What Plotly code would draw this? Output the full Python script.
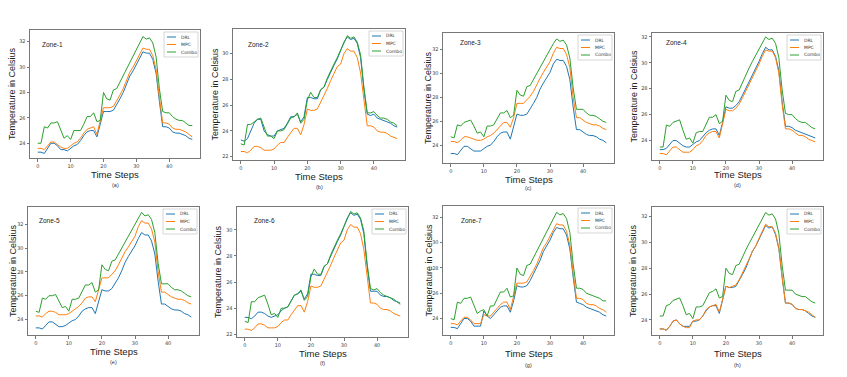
import plotly.graph_objects as go

# ---------------- data ----------------
time_steps = list(range(48))
series_names = ["DRL", "MPC", "Combo"]
zone_titles = ["Zone-1", "Zone-2", "Zone-3", "Zone-4", "Zone-5", "Zone-6", "Zone-7", ""]
captions = ["(a)", "(b)", "(c)", "(d)", "(e)", "(f)", "(g)", "(h)"]
x_tick_vals = [0, 10, 20, 30, 40]

drl1 = [23.3,23.3,23.2,23.6,24.0,24.0,23.8,23.5,23.5,23.4,23.6,23.8,23.9,24.2,24.6,24.9,25.0,25.0,24.5,25.4,26.5,26.5,26.5,26.6,27.0,27.5,28.0,28.6,29.3,29.7,30.2,30.8,31.2,31.1,31.1,30.6,29.5,27.3,25.3,25.3,25.2,24.9,24.8,24.8,24.7,24.6,24.4,24.3]
mpc1 = [23.6,23.6,23.5,23.8,24.1,24.1,23.9,23.7,23.6,23.6,23.8,24.0,24.1,24.4,24.8,25.1,25.2,25.3,24.7,25.7,26.8,26.8,26.8,26.9,27.3,27.8,28.3,28.9,29.6,30.0,30.5,31.1,31.5,31.4,31.4,30.9,29.8,27.6,25.6,25.6,25.5,25.2,25.1,25.1,25.0,24.9,24.7,24.5]
combo1 = [24.0,24.0,25.3,25.2,25.6,25.6,25.7,25.1,24.4,24.6,24.3,25.0,25.0,25.0,25.5,26.1,26.1,26.4,25.7,25.8,28.0,27.5,27.4,28.2,28.3,28.8,29.4,29.9,30.4,30.9,31.4,31.9,32.4,32.2,32.3,31.9,30.8,28.3,26.5,26.4,26.4,26.1,25.9,25.8,25.8,25.6,25.4,25.4]

drl2 = [23.3,23.2,23.4,24.0,24.6,24.9,24.9,24.0,23.7,23.6,23.6,24.0,24.1,24.2,24.6,25.1,25.1,25.3,24.7,25.1,26.6,26.6,26.5,26.5,27.2,27.4,28.0,28.6,29.1,29.6,30.2,30.9,31.3,31.1,31.2,30.8,29.7,27.2,25.3,25.2,25.3,25.0,24.9,24.8,24.7,24.6,24.4,24.3]
mpc2 = [22.4,22.4,22.3,22.5,22.8,22.8,22.7,22.5,22.5,22.5,22.6,22.9,23.1,23.1,23.5,23.9,24.2,24.2,23.7,24.5,25.7,25.6,25.6,25.7,26.2,26.7,27.3,27.9,28.5,29.0,29.2,30.0,30.4,30.2,30.2,29.7,28.5,26.3,24.4,24.4,24.3,24.0,23.9,23.9,23.8,23.6,23.5,23.4]
combo2 = [23.0,22.9,24.5,24.5,24.7,24.9,25.0,24.3,23.6,23.6,23.4,24.0,24.0,24.1,24.5,25.0,25.1,25.4,24.6,24.9,26.4,27.0,26.6,26.6,27.2,27.4,28.1,28.7,29.2,29.7,30.3,30.9,31.4,31.2,31.3,30.9,29.9,27.4,25.4,25.4,25.5,25.2,25.0,25.0,24.9,24.7,24.6,24.4]

drl3 = [23.3,23.3,23.2,23.6,23.9,23.9,23.7,23.5,23.5,23.5,23.7,23.9,24.0,24.3,24.7,25.0,25.1,25.1,24.5,25.5,26.6,26.5,26.5,26.6,27.0,27.5,28.0,28.7,29.2,29.6,30.1,30.8,31.2,31.1,31.1,30.6,29.5,27.2,25.3,25.3,25.1,24.9,24.8,24.8,24.7,24.5,24.4,24.2]
mpc3 = [24.3,24.3,24.2,24.4,24.7,24.7,24.6,24.5,24.4,24.4,24.5,24.7,24.8,25.0,25.3,25.6,25.9,25.9,25.5,26.3,27.5,27.5,27.5,27.8,28.1,28.5,29.1,29.6,30.1,30.5,31.0,31.7,32.2,32.1,32.1,31.6,30.5,28.0,26.3,26.3,26.1,25.9,25.8,25.7,25.7,25.6,25.4,25.3]
combo3 = [24.7,24.6,25.7,25.6,25.9,26.0,26.1,25.6,25.0,25.1,24.7,25.6,25.6,25.7,26.2,26.7,26.7,26.9,26.3,26.5,28.6,28.2,28.1,28.9,29.0,29.5,30.1,30.5,31.0,31.5,32.0,32.5,32.9,32.7,32.8,32.4,31.3,28.8,27.0,27.0,27.0,26.7,26.5,26.5,26.4,26.2,26.0,25.9]

drl4 = [23.3,23.3,23.4,23.7,24.0,24.0,23.8,23.6,23.5,23.5,23.7,23.9,24.0,24.3,24.6,24.8,24.9,24.9,24.4,25.4,26.6,26.5,26.5,26.7,27.0,27.5,28.0,28.6,29.1,29.6,30.1,30.7,31.2,31.0,31.0,30.5,29.4,27.0,25.1,25.1,25.0,24.8,24.7,24.6,24.5,24.4,24.3,24.2]
mpc4 = [23.0,23.0,22.9,23.2,23.5,23.5,23.3,23.1,23.1,23.1,23.3,23.6,23.7,24.0,24.4,24.6,24.7,24.7,24.2,25.2,26.4,26.3,26.3,26.5,26.8,27.3,27.8,28.4,28.9,29.4,29.9,30.5,31.0,30.9,30.9,30.4,29.2,26.8,24.9,24.9,24.8,24.6,24.4,24.4,24.3,24.1,24.0,23.9]
combo4 = [23.5,23.5,25.2,25.1,25.4,25.5,25.6,24.8,24.1,24.2,23.8,24.6,24.7,24.7,25.2,25.8,25.8,26.0,25.3,25.5,27.5,27.1,27.0,27.8,27.9,28.5,29.0,29.6,30.1,30.6,31.1,31.6,32.0,31.8,31.9,31.5,30.4,27.9,26.1,26.0,26.0,25.7,25.5,25.4,25.4,25.2,25.0,24.9]

drl5 = [23.3,23.3,23.2,23.5,23.8,23.8,23.6,23.4,23.4,23.5,23.7,23.9,24.0,24.3,24.7,24.9,25.0,25.0,24.5,25.4,26.5,26.4,26.4,26.6,27.0,27.5,28.1,28.8,29.3,29.7,30.2,30.8,31.3,31.1,31.1,30.6,29.5,27.2,25.3,25.3,25.1,24.9,24.8,24.8,24.7,24.5,24.4,24.2]
mpc5 = [24.3,24.3,24.2,24.5,24.7,24.7,24.6,24.4,24.4,24.4,24.5,24.7,24.9,25.1,25.4,25.8,25.9,25.9,25.5,26.5,27.5,27.5,27.5,27.8,28.1,28.6,29.2,29.7,30.1,30.5,31.0,31.8,32.3,32.1,32.1,31.6,30.5,28.0,26.3,26.3,26.1,25.9,25.8,25.7,25.7,25.6,25.4,25.3]
combo5 = [24.7,24.6,25.8,25.7,26.0,26.0,26.1,25.6,25.0,25.1,24.7,25.7,25.7,25.8,26.3,26.9,26.9,27.1,26.3,26.5,28.6,28.2,28.1,28.9,29.0,29.5,30.1,30.6,31.1,31.6,32.1,32.6,33.0,32.7,32.8,32.4,31.3,28.7,27.0,27.0,27.0,26.7,26.5,26.5,26.4,26.2,26.0,25.9]

drl6 = [23.3,23.3,23.2,23.4,23.7,23.7,23.6,23.4,23.3,23.4,23.5,23.8,24.0,24.1,24.5,25.0,25.1,25.3,24.7,25.1,26.6,26.6,26.5,26.5,27.2,27.4,28.0,28.6,29.1,29.6,30.2,30.9,31.3,31.1,31.2,30.8,29.7,27.2,25.3,25.3,25.3,25.0,24.9,24.9,24.8,24.6,24.5,24.4]
mpc6 = [22.4,22.4,22.3,22.5,22.8,22.8,22.7,22.5,22.5,22.5,22.6,22.9,23.1,23.1,23.5,23.9,24.2,24.2,23.7,24.5,25.7,25.6,25.6,25.7,26.2,26.7,27.3,27.9,28.5,29.0,29.2,30.0,30.4,30.2,30.2,29.7,28.5,26.3,24.4,24.4,24.3,24.0,23.9,23.9,23.8,23.6,23.5,23.4]
combo6 = [23.0,22.9,24.5,24.5,24.8,24.9,25.0,24.3,23.5,23.6,23.3,24.0,24.0,24.1,24.5,25.0,25.1,25.4,24.6,24.9,26.4,27.0,26.6,26.6,27.2,27.4,28.1,28.7,29.2,29.7,30.3,30.9,31.4,31.2,31.3,30.9,29.9,27.4,25.5,25.4,25.5,25.2,25.0,24.9,24.8,24.7,24.5,24.3]

drl7 = [23.3,23.3,23.2,23.6,24.0,24.0,23.8,23.4,23.4,23.4,24.6,24.2,24.0,24.3,24.6,24.9,25.0,25.0,24.5,25.4,26.6,26.5,26.5,26.6,27.0,27.5,28.0,28.6,29.3,29.7,30.2,30.8,31.2,31.1,31.1,30.6,29.5,27.3,25.3,25.2,25.1,24.9,24.8,24.7,24.6,24.5,24.3,24.2]
mpc7 = [23.6,23.6,23.5,23.8,24.1,24.1,23.9,23.6,23.6,23.6,24.3,24.2,24.2,24.5,24.8,25.1,25.3,25.3,24.7,25.7,26.8,26.8,26.8,26.9,27.3,27.8,28.3,28.9,29.6,30.0,30.5,31.1,31.5,31.4,31.4,30.9,29.8,27.6,25.6,25.6,25.5,25.2,25.1,25.1,25.0,24.8,24.7,24.5]
combo7 = [24.0,23.9,25.3,25.2,25.6,25.6,25.7,25.0,24.4,24.6,24.7,24.2,25.0,25.0,25.5,26.1,26.1,26.4,25.7,25.8,28.0,27.5,27.4,28.2,28.3,28.8,29.4,29.9,30.4,30.9,31.4,31.9,32.4,32.2,32.3,31.9,30.8,28.3,26.4,26.4,26.3,26.0,25.9,25.8,25.7,25.6,25.4,25.4]

drl8 = [23.3,23.3,23.2,23.5,23.9,24.0,23.7,23.5,23.5,23.5,23.9,23.9,24.0,24.3,24.7,25.0,25.1,25.1,24.5,25.5,26.6,26.5,26.5,26.6,27.0,27.5,28.0,28.6,29.3,29.7,30.2,30.8,31.3,31.1,31.2,30.6,29.5,27.3,25.3,25.3,25.2,24.9,24.8,24.8,24.7,24.5,24.3,24.2]
mpc8 = [23.3,23.3,23.2,23.5,23.9,24.0,23.7,23.5,23.4,23.4,23.9,24.0,24.0,24.3,24.8,25.0,25.1,25.2,24.6,25.5,26.6,26.5,26.6,26.7,27.1,27.6,28.1,28.7,29.3,29.7,30.3,30.9,31.4,31.2,31.2,30.7,29.6,27.3,25.3,25.3,25.2,24.9,24.8,24.8,24.7,24.6,24.4,24.2]
combo8 = [24.3,24.3,25.1,25.2,25.5,25.6,25.7,25.1,24.4,24.5,24.1,25.0,25.0,25.1,25.6,26.1,26.2,26.4,25.7,25.8,28.0,27.6,27.5,28.2,28.3,28.9,29.4,29.9,30.4,30.9,31.4,31.9,32.3,32.1,32.2,31.8,30.7,28.2,26.3,26.3,26.3,26.0,25.9,25.8,25.8,25.6,25.4,25.3]

zones = [
    (drl1, mpc1, combo1), (drl2, mpc2, combo2), (drl3, mpc3, combo3), (drl4, mpc4, combo4),
    (drl5, mpc5, combo5), (drl6, mpc6, combo6), (drl7, mpc7, combo7), (drl8, mpc8, combo8),
]

# ---------------- layout / style ----------------
W, H = 847, 377
colors = ["#1f77b4", "#ff7f0e", "#2ca02c"]
# plot boxes in pixels: left, top, right, bottom
boxes = [(30, 30, 200, 158), (233, 29, 405, 160), (443, 33, 614, 163), (652, 33, 823, 160),
         (28, 207, 199, 335), (237, 207, 408, 337), (443, 206, 614, 335), (652, 207, 823, 335)]
yranges = [(22.84, 32.92), (21.74, 31.92), (22.5, 33.4), (22.5, 32.3),
           (22.7, 33.45), (21.8, 31.74), (22.7, 32.9), (22.83, 32.73)]
xlabel_y = [174, 176, 179, 174, 351, 353, 353, 353]
caption_y = [185, 187, 188, 185, 362, 363, 365, 365]
ylabel_x = [12, 215, 428, 633, 13, 218, 428, 633]
zone_off = [(10, 14), (13, 15), (15, 10), (12, 10), (9, 14), (15, 13), (16, 15), (0, 0)]

def px(x):
    return x / W

def py(y):
    return 1 - y / H

fig = go.Figure()
annotations = []
shapes = []
FONT = "Liberation Sans, Arial, sans-serif"

for i, (series, box) in enumerate(zip(zones, boxes)):
    n = i + 1
    xa = "x" if n == 1 else f"x{n}"
    ya = "y" if n == 1 else f"y{n}"
    for s, name, c in zip(series, series_names, colors):
        fig.add_trace(go.Scatter(x=time_steps, y=s, mode="lines", name=name,
                                 line=dict(color=c, width=1.0), xaxis=xa, yaxis=ya,
                                 showlegend=False, hoverinfo="skip"))
    L, T, R, B = box
    axkw = dict(showgrid=False, zeroline=False, showline=True, mirror=True,
                linecolor="#777777", linewidth=1, ticks="outside", ticklen=2.5,
                tickcolor="#777777", tickfont=dict(size=5, color="#444444", family="DejaVu Sans"))
    fig.update_layout(**{
        ("xaxis" if n == 1 else f"xaxis{n}"): dict(domain=[px(L), px(R)], range=[-2.35, 49.35],
                                                    tickvals=x_tick_vals, anchor=ya, **axkw),
        ("yaxis" if n == 1 else f"yaxis{n}"): dict(domain=[py(B), py(T)], range=list(yranges[i]),
                                                    dtick=2, anchor=xa, **axkw),
    })
    cx = (L + R) / 2
    cy = (T + B) / 2
    annotations.append(dict(x=px(cx), y=py(xlabel_y[i]), xref="paper", yref="paper", text="Time Steps",
                            showarrow=False, xanchor="center", yanchor="middle",
                            font=dict(size=9.5, color="#222222", family=FONT)))
    annotations.append(dict(x=px(cx), y=py(caption_y[i]), xref="paper", yref="paper", text=captions[i],
                            showarrow=False, xanchor="center", yanchor="middle",
                            font=dict(size=5.5, color="#333333", family=FONT)))
    annotations.append(dict(x=px(ylabel_x[i]), y=py(cy), xref="paper", yref="paper",
                            text="Temperature in Celsius", textangle=-90,
                            showarrow=False, xanchor="center", yanchor="middle",
                            font=dict(size=9, color="#222222", family=FONT)))
    if zone_titles[i]:
        dx, dy = zone_off[i]
        annotations.append(dict(x=px(L + dx), y=py(T + dy), xref="paper", yref="paper",
                                text=zone_titles[i], showarrow=False, xanchor="left", yanchor="middle",
                                font=dict(size=6.5, color="#222222", family=FONT)))
    # legend box (drawn manually)
    lr = R - 2
    ll = lr - 34
    lt = T + 2
    lb = lt + 25
    shapes.append(dict(type="rect", xref="paper", yref="paper", x0=px(ll), x1=px(lr),
                       y0=py(lb), y1=py(lt), line=dict(color="#cccccc", width=0.8),
                       fillcolor="rgba(255,255,255,0.85)", layer="above"))
    for k, (name, c) in enumerate(zip(series_names, colors)):
        yy = lt + 5 + 7.5 * k
        shapes.append(dict(type="line", xref="paper", yref="paper", x0=px(ll + 3), x1=px(ll + 12),
                           y0=py(yy), y1=py(yy), line=dict(color=c, width=1.0), layer="above"))
        annotations.append(dict(x=px(ll + 14.5), y=py(yy), xref="paper", yref="paper", text=name,
                                showarrow=False, xanchor="left", yanchor="middle",
                                font=dict(size=4.5, color="#333333", family="DejaVu Sans")))

fig.update_layout(width=W, height=H, autosize=False, margin=dict(l=0, r=0, t=0, b=0),
                  paper_bgcolor="white", plot_bgcolor="white", showlegend=False,
                  hovermode=False, annotations=annotations, shapes=shapes)

fig.write_html("out.html", config={"displayModeBar": False},
               post_script="document.body.style.margin='0';document.body.style.overflow='hidden';")
